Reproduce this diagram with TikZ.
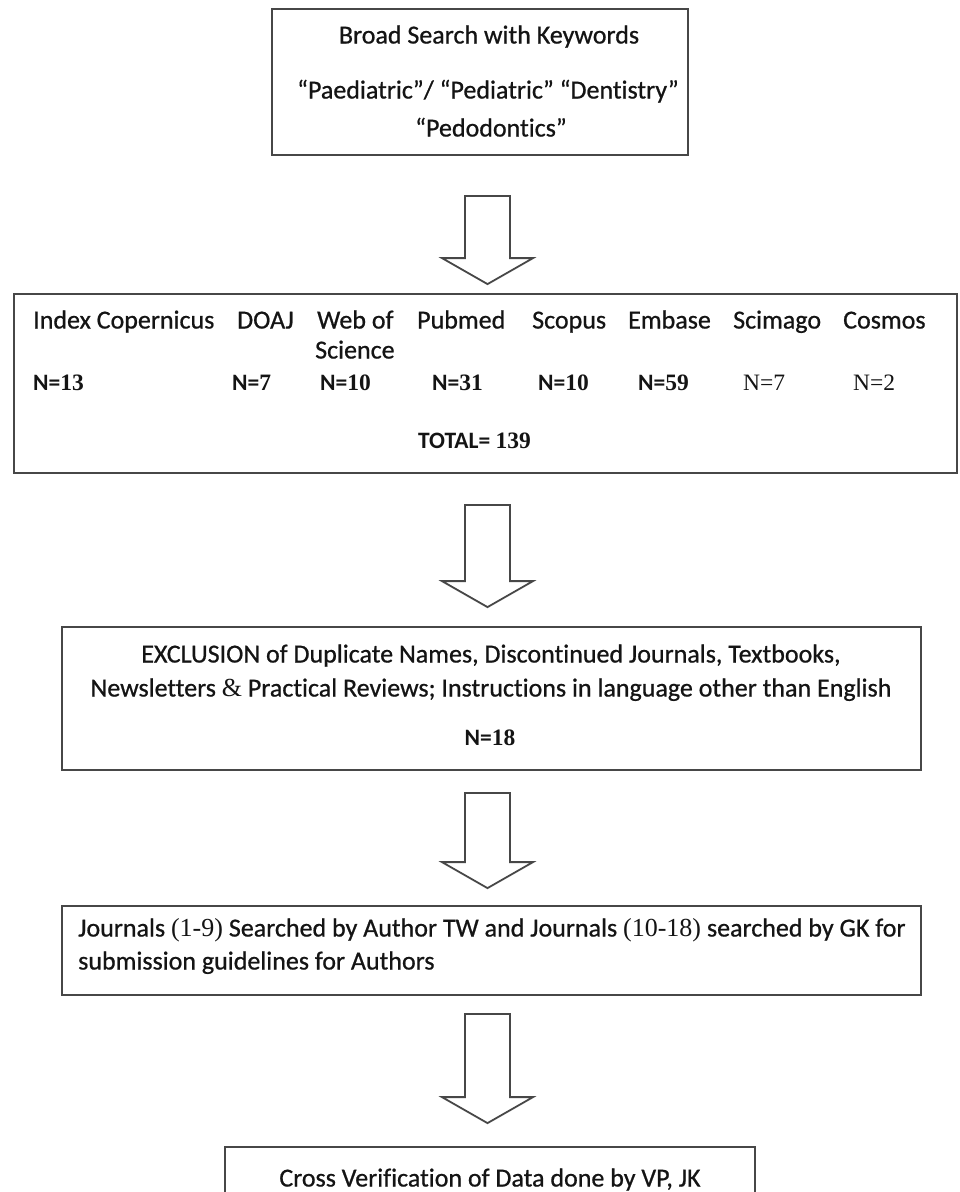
\documentclass[tikz,border=0pt]{standalone}
\usepackage{fontspec}
\setmainfont{Carlito}[Ligatures=NoCommon]
\newfontfamily\calb{Carlito}[FakeBold=0.7, Ligatures=NoCommon]
\newfontfamily\tnr{Liberation Serif}
\usetikzlibrary{calc}
\newcommand\blockarr[2]{%
  \draw[barrow] let \p1=(#1), \p2=(#2) in
    (\x1-22.5pt,\y1) -- (\x1+22.5pt,\y1) -- (\x1+22.5pt,\y2+26pt) -- (\x1+45.5pt,\y2+26pt)
    -- (\x2,\y2) -- (\x1-45.5pt,\y2+26pt) -- (\x1-22.5pt,\y2+26pt) -- cycle;}
\begin{document}
\begin{tikzpicture}[x=1pt,y=-1pt,
  boxst/.style={draw=black!72, line width=1.8pt, inner sep=0pt},
  txt/.style={inner sep=0pt, text height=17pt, text depth=0pt, font=\fontsize{26}{30}\selectfont\calb, text=black!92},
  ntxt/.style={inner sep=0pt, text height=17pt, text depth=0pt, font=\fontsize{23.5}{28}\selectfont\bfseries, text=black!92},
  barrow/.style={draw=black!72, line width=1.8pt, line join=miter}
]
\useasboundingbox[fill=white] (0,0) rectangle (959,1192);

% boxes
\node[boxst, minimum width=416pt, minimum height=146pt] (b1) at (480,82) {};
\node[boxst, minimum width=943pt, minimum height=179pt] (b2) at (485.5,383.5) {};
\node[boxst, minimum width=859pt, minimum height=143pt] (b3) at (491.5,698.5) {};
\node[boxst, minimum width=859pt, minimum height=89pt] (b4) at (491.5,950.5) {};
\begin{scope}
  \clip (0,0) rectangle (959,1192);
  \node[boxst, minimum width=530pt, minimum height=106pt] (b5) at (490,1200) {};
\end{scope}

% box 1 text
\node[txt] (t11) at (489,35) {Broad Search with Keywords};
\node[txt] (t12) at (488,90) {“Paediatric”/ “Pediatric” “Dentistry”};
\node[txt] (t13) at (491,128) {“Pedodontics”};

% box 2 text
\node[txt, anchor=west] (h1) at (33,320) {Index Copernicus};
\node[txt, anchor=west] (h2) at (237,320) {DOAJ};
\node[txt, anchor=west] (h3) at (317,320) {Web of};
\node[txt, anchor=west] (h3b) at (315,350) {Science};
\node[txt, anchor=west] (h4) at (417,320) {Pubmed};
\node[txt, anchor=west] (h5) at (532,320) {Scopus};
\node[txt, anchor=west] (h6) at (628,320) {Embase};
\node[txt, anchor=west] (h7) at (733,320) {Scimago};
\node[txt, anchor=west] (h8) at (843,320) {Cosmos};

\node[ntxt, anchor=west] (n1) at (33,382) {N={\tnr 13}};
\node[ntxt, anchor=west] (n2) at (232,382) {N={\tnr 7}};
\node[ntxt, anchor=west] (n3) at (320,382) {N={\tnr 10}};
\node[ntxt, anchor=west] (n4) at (432,382) {N={\tnr 31}};
\node[ntxt, anchor=west] (n5) at (538,382) {N={\tnr 10}};
\node[ntxt, anchor=west] (n6) at (638,382) {N={\tnr 59}};
\node[ntxt, anchor=west] (n7) at (743,382) {\tnr\mdseries N=7};
\node[ntxt, anchor=west] (n8) at (853,382) {\tnr\mdseries N=2};
\node[ntxt, anchor=west] (tot) at (418,440) {TOTAL= {\tnr 139}};

% box 3 text
\node[txt] (t31) at (491,654) {EXCLUSION of Duplicate Names, Discontinued Journals, Textbooks,};
\node[txt] (t32) at (491,688) {Newsletters {\tnr\&} Practical Reviews; Instructions in language other than English};
\node[ntxt] (t33) at (490,737) {N={\tnr 18}};

% box 4 text
\node[txt, anchor=west] (t41) at (78,928) {Journals {\tnr (1-9)} Searched by Author TW and Journals {\tnr (10-18)} searched by GK for};
\node[txt, anchor=west] (t42) at (78,961) {submission guidelines for Authors};

% box 5 text
\node[txt] (t51) at (490,1178) {Cross Verification of Data done by VP, JK};

% block arrows
\path (b1.south) ++(7.5,40) coordinate (a1s);
\path (b2.north) ++(2,-9) coordinate (a1t);
\path (b2.south) ++(2,31) coordinate (a2s);
\path (b3.north) ++(-4,-19) coordinate (a2t);
\path (b3.south) ++(-4,22) coordinate (a3s);
\path (b4.north) ++(-4,-17) coordinate (a3t);
\path (b4.south) ++(-4,18) coordinate (a4s);
\path (b5.north) ++(-2.5,-23) coordinate (a4t);
\blockarr{a1s}{a1t}
\blockarr{a2s}{a2t}
\blockarr{a3s}{a3t}
\blockarr{a4s}{a4t}
\end{tikzpicture}
\end{document}
